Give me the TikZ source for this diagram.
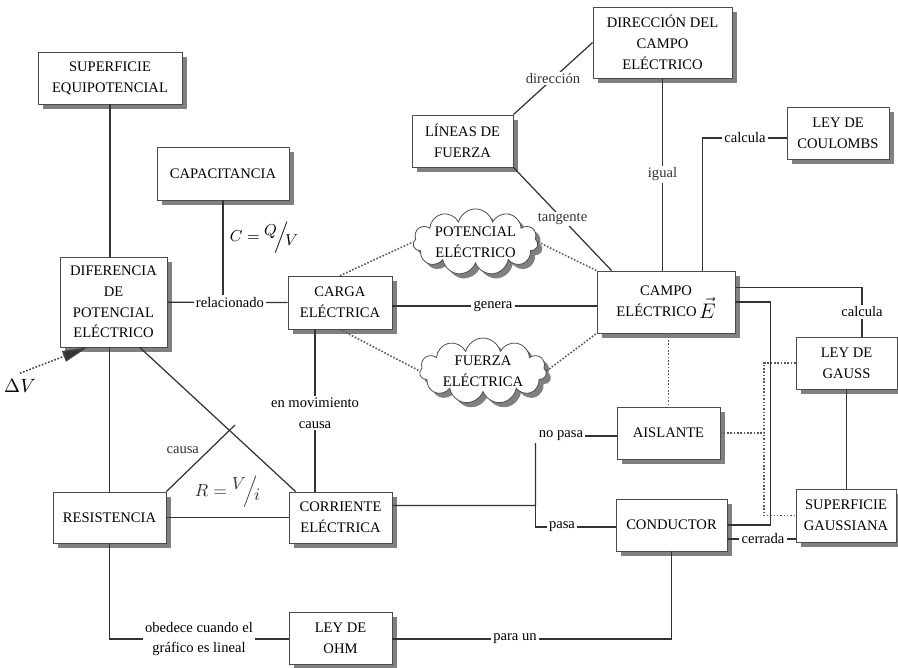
\documentclass[tikz,border=0pt]{standalone}
\usepackage{fontspec}
\setmainfont{Liberation Serif}
\usetikzlibrary{shapes.symbols,shadows,arrows.meta}

\newcommand{\barra}[2]{\raisebox{0.8ex}{$#1$}\hspace{-1.5pt}\Big/\hspace{-2pt}\raisebox{-0.6ex}{$#2$}}

\tikzset{
  concepto/.style={draw=black!70, fill=white, line width=0.45pt, align=center, inner sep=2pt,
    drop shadow={shadow xshift=3pt, shadow yshift=-3pt, fill=black!50, draw=none, opacity=1}},
  nube/.style={cloud, cloud puffs=11, cloud ignores aspect, draw=black!70, fill=white,
    line width=0.45pt, align=center, inner sep=0pt,
    drop shadow={shadow xshift=2.6pt, shadow yshift=-2.6pt, fill=black!50, draw=none, opacity=1}},
  enlace/.style={fill=white, inner sep=1pt, align=center},
  linea/.style={black!80, line width=0.7pt},
  punteado/.style={black!65, densely dotted, line width=0.9pt}
}

\begin{document}
\begin{tikzpicture}[font=\fontsize{8.3}{11.8}\selectfont]
  \useasboundingbox (0,0) rectangle (17.96,13.34);

  \node[concepto, minimum width=2.88cm, minimum height=1.04cm] (supequi) at (2.20,11.78) {SUPERFICIE\\EQUIPOTENCIAL};
  \node[concepto, minimum width=2.64cm, minimum height=1.06cm] (capac) at (4.46,9.87) {CAPACITANCIA};
  \node[concepto, minimum width=2.14cm, minimum height=1.80cm] (difpot) at (2.27,7.30) {DIFERENCIA\\DE\\POTENCIAL\\ELÉCTRICO};
  \node[concepto, minimum width=2.26cm, minimum height=1.02cm] (resist) at (2.19,2.99) {RESISTENCIA};
  \node[concepto, minimum width=2.06cm, minimum height=1.02cm] (corriente) at (6.81,2.99) {CORRIENTE\\ELÉCTRICA};
  \node[concepto, minimum width=2.06cm, minimum height=1.04cm] (ohm) at (6.81,0.58) {LEY DE\\OHM};
  \node[concepto, minimum width=2.08cm, minimum height=1.06cm] (carga) at (6.80,7.29) {CARGA\\ELÉCTRICA};
  \node[concepto, minimum width=2.02cm, minimum height=1.04cm] (lineas) at (9.25,10.52) {LÍNEAS DE\\FUERZA};
  \node[concepto, minimum width=2.78cm, minimum height=1.42cm] (direccion) at (13.25,12.49) {DIRECCIÓN DEL\\CAMPO\\ELÉCTRICO};
  \node[concepto, minimum width=2.04cm, minimum height=1.04cm] (coulombs) at (16.76,10.68) {LEY DE\\COULOMBS};
  \node[concepto, minimum width=2.76cm, minimum height=1.24cm] (campo) at (13.32,7.30) {CAMPO\\ELÉCTRICO\,\raisebox{-1pt}{\fontsize{13}{13}\selectfont$\vec{E}$}};
  \node[concepto, minimum width=2.02cm, minimum height=1.04cm] (gauss) at (16.93,6.08) {LEY DE\\GAUSS};
  \node[concepto, minimum width=2.06cm, minimum height=1.04cm] (aislante) at (13.37,4.68) {AISLANTE};
  \node[concepto, minimum width=2.22cm, minimum height=1.04cm] (conductor) at (13.43,2.84) {CONDUCTOR};
  \node[concepto, minimum width=2.00cm, minimum height=1.06cm] (supgauss) at (16.92,3.03) {SUPERFICIE\\GAUSSIANA};
  \node[nube, minimum width=2.50cm, minimum height=1.20cm] (potencial) at (9.51,8.50) {POTENCIAL\\ELÉCTRICO};
  \node[nube, minimum width=2.54cm, minimum height=1.24cm] (fuerza) at (9.66,5.92) {FUERZA\\ELÉCTRICA};

  \node[enlace] (rel) at (4.60,7.29) {relacionado};
  \node (formC) at (5.28,8.60) {\fontsize{9}{9}\selectfont$C=\barra{Q}{V}$};
  \node[enlace] (genera) at (9.86,7.22) {genera};
  \node[enlace] (enmov) at (6.30,5.08) {en movimiento\\causa};
  \node[enlace] (obedece) at (3.98,0.56) {obedece cuando el\\gráfico es lineal};
  \node[enlace] (paraun) at (10.30,0.56) {para un};
  \node[enlace] (nopasa) at (11.22,4.62) {no pasa};
  \node[enlace] (pasa) at (11.24,2.80) {pasa};
  \node[enlace] (calculaC) at (14.90,10.58) {calcula};
  \node[enlace] (calculaG) at (17.24,7.10) {calcula};
  \node[enlace] (cerrada) at (15.26,2.56) {cerrada};
  \node (deltaV) at (0.40,5.62) {\fontsize{11}{11}\selectfont$\Delta V$};

  \coordinate (bif) at (10.71,3.23);
  \coordinate (llave) at (15.28,4.60);
  \coordinate (codo) at (15.41,2.84);
  \coordinate (causafin) at (4.70,4.84);

  \draw[linea] (supequi) -- (supequi |- difpot.north);
  \draw[linea] (resist.north |- difpot.south) -- (resist);
  \draw[linea] (difpot) -- (rel) -- (carga);
  \draw[linea] (capac) -- (capac |- rel.north);
  \draw[linea] (genera -| carga.east) -- (genera) -- (genera -| campo.west);
  \draw[punteado] (carga.north) -- (potencial.west);
  \draw[punteado] (potencial.east) -- (campo.north west);
  \draw[punteado] (carga.south) -- (fuerza.west);
  \draw[punteado] (fuerza.east) -- (campo.south west);
  \draw[linea] (enmov |- carga.south) -- (enmov) -- (enmov |- corriente.north);
  \draw[linea] (difpot.-60) -- (corriente.150);
  \draw[linea] (resist.north east) -- node[left=2pt, pos=0.62]{causa} (causafin);
  \draw[linea] (resist) -- node[above=2pt]{\fontsize{10}{10}\selectfont$R=\barra{V}{i}$} (corriente);
  \draw[linea] (resist) |- (obedece) -- (obedece -| ohm.west);
  \draw[linea] (ohm.east |- paraun) -- (paraun) -| (conductor);
  \draw[linea] (corriente.13) -- (bif) -- (bif |- nopasa.south);
  \draw[linea] (bif) |- (pasa) -- (pasa -| conductor.west);
  \draw[linea] (nopasa) -- (nopasa -| aislante.west);
  \draw[punteado] (aislante.north |- campo.south) -- (aislante.north);
  \draw[punteado] (gauss.west) -| (llave |- supgauss.west) -- (supgauss.west);
  \draw[punteado] (aislante.east) -- (aislante.east -| llave);
  \draw[linea] (gauss) -- (gauss |- supgauss.north);
  \draw[linea] (campo.east) -| (codo) -- (conductor.east);
  \draw[linea] (campo.12) -| (calculaG) -- (calculaG |- gauss.north);
  \draw[linea] (campo.41) |- (calculaC) -- (calculaC -| coulombs.west);
  \draw[linea] (direccion) -- node[enlace]{igual} (direccion.south |- campo.north);
  \draw[linea] (lineas.north east) -- node[enlace]{dirección} (direccion.west);
  \draw[linea] (lineas.south east) -- node[enlace]{tangente} (campo.150);
  \draw[linea] (cerrada -| conductor.east) -- (cerrada) -- (cerrada -| supgauss.west);
  \draw[punteado, -{Triangle[length=5mm, width=2.2mm, fill=black!80]}, black!75] (deltaV.north) -- (difpot.-120);
\end{tikzpicture}
\end{document}
